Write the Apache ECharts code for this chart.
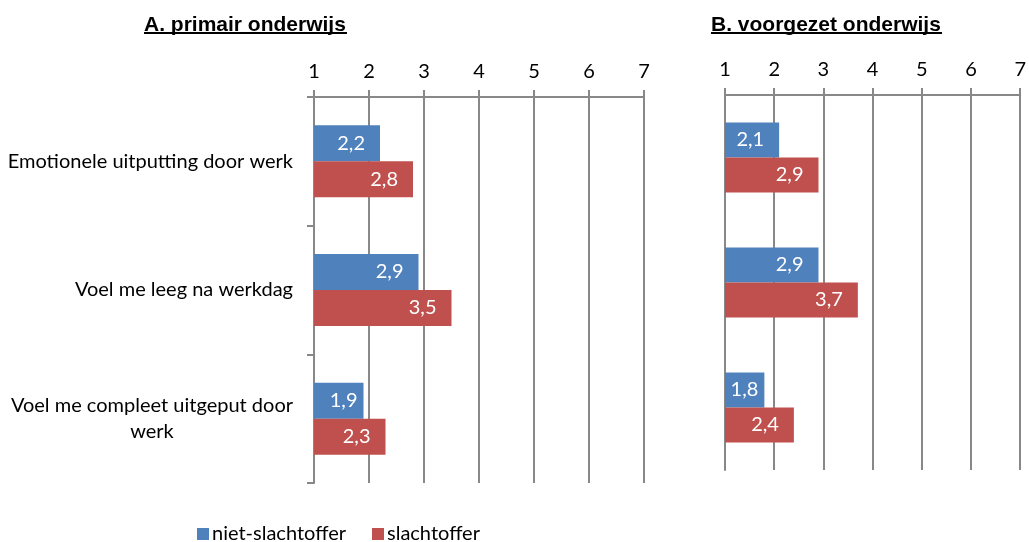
<!DOCTYPE html>
<html>
<head>
<meta charset="utf-8">
<script src="https://cdn.jsdelivr.net/npm/echarts@6/dist/echarts.min.js"></script>
<style>
  html, body { margin: 0; padding: 0; background: #fff; }
  #chart { width: 1029px; height: 542px; }
</style>
</head>
<body>
<div id="chart"></div>
<script>
// categorieën en waarden (schaal 1-7)
const categories = ['Emotionele uitputting door werk', 'Voel me leeg na werkdag', 'Voel me compleet uitgeput door\nwerk'];
const seriesNames = ['niet-slachtoffer', 'slachtoffer'];
const primairNiet = [2.2, 2.9, 1.9];
const primairSlacht = [2.8, 3.5, 2.3];
const voortgezetNiet = [2.1, 2.9, 1.8];
const voortgezetSlacht = [2.9, 3.7, 2.4];
const panelTitles = ['A. primair onderwijs', 'B. voorgezet onderwijs'];

const BLUE = '#4F81BD';
const RED = '#C0504D';
const GRID_COLOR = '#888888';
const FONT = 'Lato';
const FS = 20;

const chart = echarts.init(document.getElementById('chart'));

function valueAxis(gridIndex) {
    return {
        type: 'value',
        gridIndex: gridIndex,
        position: 'top',
        min: 1,
        max: 7,
        interval: 1,
        axisLine: { show: true, lineStyle: { color: GRID_COLOR, width: 2 } },
        axisTick: { show: true, length: 7, lineStyle: { color: GRID_COLOR, width: 2 } },
        axisLabel: { fontFamily: FONT, fontSize: FS, color: '#000', margin: 15 },
        splitLine: { show: true, lineStyle: { color: GRID_COLOR, width: 2 } }
    };
}

function catAxis(gridIndex, showLabels) {
    return {
        type: 'category',
        gridIndex: gridIndex,
        data: categories,
        inverse: true,
        axisLine: { show: true, lineStyle: { color: GRID_COLOR, width: 2 } },
        axisTick: { show: showLabels, length: 7, lineStyle: { color: GRID_COLOR, width: 2 } },
        axisLabel: {
            show: showLabels,
            fontFamily: FONT,
            fontSize: FS,
            color: '#000',
            margin: 21,
            lineHeight: 26,
            // meerregelige labels gecentreerd, zoals in Excel
            formatter: (v) => '{c|' + v.split('\n').join('}\n{c|') + '}',
            rich: { c: { fontFamily: FONT, fontSize: FS, color: '#000', align: 'center', lineHeight: 26 } }
        }
    };
}

function barSeries(name, values, color, idx) {
    return {
        name: name,
        type: 'bar',
        xAxisIndex: idx,
        yAxisIndex: idx,
        // korte balken: label dichter bij het einde (zoals Excel)
        data: values.map(v => ({ value: v, label: { distance: v < 2 ? 6 : 15 } })),
        barWidth: idx === 0 ? 36 : 35,
        barGap: '0%',
        itemStyle: { color: color },
        label: {
            show: true,
            position: 'insideRight',
            color: '#fff',
            fontFamily: FONT,
            fontSize: FS,
            formatter: (p) => String(p.value).replace('.', ',')
        }
    };
}

const titleStyle = { fontFamily: 'Liberation Sans', fontWeight: 'bold', fontSize: 21, color: '#000' };

const option = {
    animation: false,
    title: [
        { text: panelTitles[0], left: 139, top: 10, textStyle: titleStyle },
        { text: panelTitles[1], left: 706, top: 10, textStyle: titleStyle }
    ],
    // onderstreping van de titels
    graphic: [
        { type: 'line', shape: { x1: 144, y1: 33, x2: 347, y2: 33 }, style: { stroke: '#000', lineWidth: 2 } },
        { type: 'line', shape: { x1: 711, y1: 33, x2: 942, y2: 33 }, style: { stroke: '#000', lineWidth: 2 } }
    ],
    legend: {
        data: seriesNames,
        left: 192,
        top: 519,
        itemWidth: 12,
        itemHeight: 12,
        itemGap: 26,
        icon: 'rect',
        textStyle: { fontFamily: FONT, fontSize: FS, color: '#000', padding: [0, 0, 0, -2] }
    },
    grid: [
        { left: 314, right: 385, top: 97, bottom: 59 },
        { left: 725, right: 4, top: 95, bottom: 72 }
    ],
    xAxis: [valueAxis(0), valueAxis(1)],
    yAxis: [catAxis(0, true), catAxis(1, false)],
    series: [
        barSeries(seriesNames[0], primairNiet, BLUE, 0),
        barSeries(seriesNames[1], primairSlacht, RED, 0),
        barSeries(seriesNames[0], voortgezetNiet, BLUE, 1),
        barSeries(seriesNames[1], voortgezetSlacht, RED, 1)
    ]
};

chart.setOption(option);
</script>
</body>
</html>
